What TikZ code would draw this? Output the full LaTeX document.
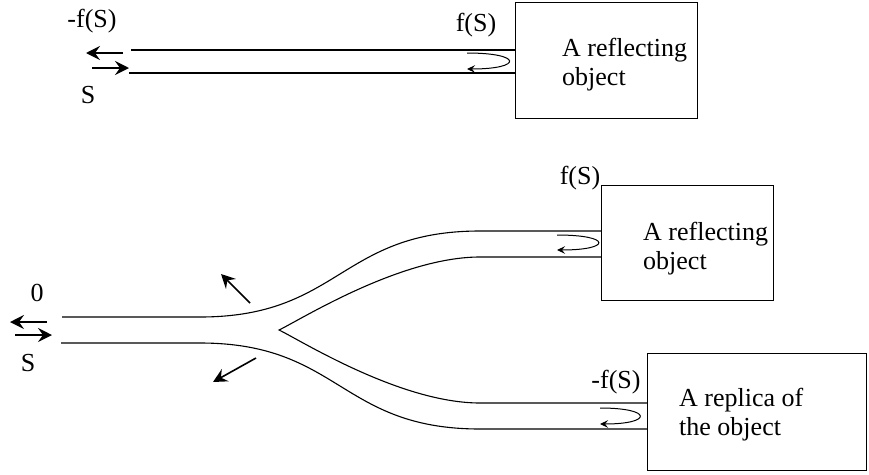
\documentclass[tikz,border=0pt]{standalone}
\usepackage{fontspec}
\setmainfont{Liberation Serif}
\usetikzlibrary{arrows.meta}
\begin{document}
\begin{tikzpicture}[x=1pt,y=-1pt,
  guide/.style={line width=1.1pt},
  objbox/.style={draw,line width=1.1pt,inner sep=0,anchor=north west},
  boxtext/.style={anchor=base west,inner sep=0,font=\fontsize{26}{29}\selectfont},
  lbl/.style={inner sep=0,font=\fontsize{26}{29}\selectfont},
  bigarrow/.style={line width=1.6pt,-{Stealth[length=14pt,width=14pt,inset=5pt]}},
  curl/.style={line width=1pt,-{Stealth[length=8pt,width=7.5pt,inset=3pt]}}]
\useasboundingbox (0,0) rectangle (869,474);

% boxes
\node[objbox,minimum width=182pt,minimum height=116pt] (box1) at (515,2) {};
\node[objbox,minimum width=172pt,minimum height=115pt] (box2) at (601,185) {};
\node[objbox,minimum width=219pt,minimum height=117pt] (box3) at (647,353) {};

\node[boxtext] (t1) at (562,56) {\begin{tabular}[t]{@{}l@{}}A reflecting\\object\end{tabular}};
\node[boxtext] (t2) at (643,240) {\begin{tabular}[t]{@{}l@{}}A reflecting\\object\end{tabular}};
\node[boxtext] (t3) at (679,406) {\begin{tabular}[t]{@{}l@{}}A replica of\\the object\end{tabular}};

% top guide
\coordinate (a1) at (131,50);
\coordinate (a2) at (129,73);
\draw[guide] (a1) -- (a1 -| box1.west);
\draw[guide] (a2) -- (a2 -| box1.west);

% labels top
\node[lbl] (l1) at (92,21) {-f(S)};
\node[lbl] (l2) at (88,95) {S};
\node[lbl] (l3) at (476,25) {f(S)};

% top arrows
\draw[bigarrow] (123,53) -- (86,53);
\draw[bigarrow] (92,68) -- (129,68);
\draw[curl] (467,53) .. controls (523,53) and (523,69) .. (467,69);

% Y guide
\coordinate (b1) at (62,317);
\coordinate (b2) at (61,343);
\draw[guide] (b1) -- (200,317) .. controls (340,317) and (340,231) .. (480,231) -- (601,231);
\draw[guide] (601,257) -- (480,257) .. controls (400,257) and (300,320) .. (279,330)
   .. controls (300,340) and (400,403) .. (480,403) -- (647,403);
\draw[guide] (b2) -- (200,343) .. controls (340,343) and (340,429) .. (480,429) -- (647,429);

% labels bottom
\node[lbl] (l4) at (37,293) {0};
\node[lbl] (l5) at (28,363) {S};
\node[lbl] (l6) at (580,178) {f(S)};
\node[lbl] (l7) at (616,382) {-f(S)};

% bottom arrows
\draw[bigarrow] (47,322) -- (10,322);
\draw[bigarrow] (15,335) -- (52,335);
\draw[bigarrow] (250,303) -- (221,274);
\draw[bigarrow] (256,358) -- (213,382);
\draw[curl] (557,235) .. controls (612,235) and (612,250) .. (557,250);
\draw[curl] (600,408) .. controls (653,408) and (653,424) .. (600,424);
\end{tikzpicture}
\end{document}
